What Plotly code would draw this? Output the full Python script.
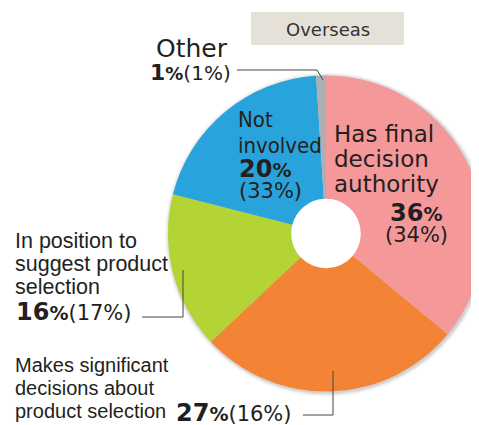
import plotly.graph_objects as go

W, H = 479, 425
OFF = 8  # the page body adds an 8px margin around the figure

labels = ["Has final decision authority",
          "Makes significant decisions about product selection",
          "In position to suggest product selection",
          "Not involved",
          "Other"]
values = [36, 27, 16, 20, 1]
prev_values = [34, 16, 17, 33, 1]
colors = ["#F4989A", "#F48435", "#B4D335", "#29A3DC", "#AEAFB2"]
panel_title = "Overseas"

SANS = "Liberation Sans, Arial, sans-serif"
COND = "DejaVu Sans Condensed, DejaVu Sans, sans-serif"
WIDE = "DejaVu Sans, Verdana, sans-serif"
INK = "#231F20"

# pie geometry in window pixels
CX, CY, R = 326, 233.5, 158
HOLE = 0.22


def px(x):
    return (x - OFF) / W


def py(y):
    return 1 - (y - OFF) / H


fig = go.Figure(go.Pie(
    values=values, labels=labels, sort=False, direction="clockwise",
    rotation=0, hole=HOLE, textinfo="none",
    marker=dict(colors=colors, line=dict(width=0)),
    domain=dict(x=[px(CX - R), px(CX + R)], y=[py(CY + R), py(CY - R)]),
    showlegend=False,
))

annotations = []


def txt(x, base, text, size, family=SANS, anchor="left"):
    annotations.append(dict(
        x=px(x), y=py(base - 0.36 * size), xref="paper", yref="paper",
        xanchor=anchor, yanchor="middle", text=text, showarrow=False,
        font=dict(size=size, family=family, color=INK), align=anchor,
    ))


def big(v, bsize=24, small=19):
    return (f"<span style='font-family:DejaVu Sans;font-weight:bold;font-size:{bsize}px'>{v}</span>"
            f"<span style='font-family:DejaVu Sans;font-weight:bold;font-size:{small}px'>%</span>")


def paren(p, size=21):
    return f"<span style='font-family:DejaVu Sans;font-size:{size}px'>({p}%)</span>"


# Other
txt(230, 58, "Other", 25, WIDE, "right")
txt(233, 80, big(values[4], 22, 18) + paren(prev_values[4], 20), 20, WIDE, "right")
# Not involved
txt(236, 127, "Not", 22, COND)
txt(236, 153, "involved", 22, COND)
txt(237, 177, big(values[3]), 22, WIDE)
txt(237, 199, paren(prev_values[3]), 21, WIDE)
# Has final decision authority
txt(332, 142, "Has final", 23, WIDE)
txt(332, 167, "decision", 23, WIDE)
txt(332, 192, "authority", 23, WIDE)
txt(416, 221, big(values[0]), 22, WIDE, "center")
txt(416, 243, paren(prev_values[0]), 21, WIDE, "center")
# In position to suggest
txt(13, 249, "In position to", 21.5)
txt(13, 272, "suggest product", 21.5)
txt(13, 295, "selection", 21.5)
txt(14, 320, big(values[2]) + paren(prev_values[2]), 21, WIDE)
# Makes significant
txt(13, 372, "Makes significant", 20)
txt(13, 395, "decisions about", 20)
txt(13, 418, "product selection", 20)
txt(174, 421, big(values[1]) + paren(prev_values[1]), 21, WIDE)

# Title box
annotations.append(dict(
    x=px(328), y=py(29), xref="paper", yref="paper", xanchor="center", yanchor="middle",
    text=panel_title, showarrow=False, font=dict(size=18, family=WIDE, color="#333333"),
))

shapes = [
    dict(type="rect", xref="paper", yref="paper", x0=px(251), x1=px(404), y0=py(12), y1=py(45),
         fillcolor="#E5E1D8", line=dict(width=0), layer="below"),
]
# soft shadow around the pie
for d, a in [(4, 0.03), (3, 0.04), (2, 0.05), (1, 0.06)]:
    shapes.append(dict(type="circle", xref="paper", yref="paper",
                       x0=px(CX - R - d + 1), x1=px(CX + R + d + 1),
                       y0=py(CY + R + d + 1), y1=py(CY - R - d + 1),
                       fillcolor=f"rgba(0,0,0,{a})", line=dict(width=0), layer="below"))
# keep the hole white
hr = R * HOLE + 1
shapes.append(dict(type="circle", xref="paper", yref="paper",
                   x0=px(CX - hr), x1=px(CX + hr), y0=py(CY + hr), y1=py(CY - hr),
                   fillcolor="white", line=dict(width=0), layer="below"))

LINE = dict(color="#444444", width=1)
segs = [
    (237, 70, 317, 70), (317, 70, 323, 80),
    (142, 317, 183, 317), (183, 317, 183, 270),
    (303, 415, 333, 415), (333, 415, 333, 371),
]
for x0, y0, x1, y1 in segs:
    shapes.append(dict(type="line", xref="paper", yref="paper", x0=px(x0), y0=py(y0),
                       x1=px(x1), y1=py(y1), line=LINE, layer="above"))

fig.update_layout(
    width=W, height=H, margin=dict(l=0, r=0, t=0, b=0),
    paper_bgcolor="white", plot_bgcolor="white",
    annotations=annotations, shapes=shapes,
)
fig.write_html("out.html")
